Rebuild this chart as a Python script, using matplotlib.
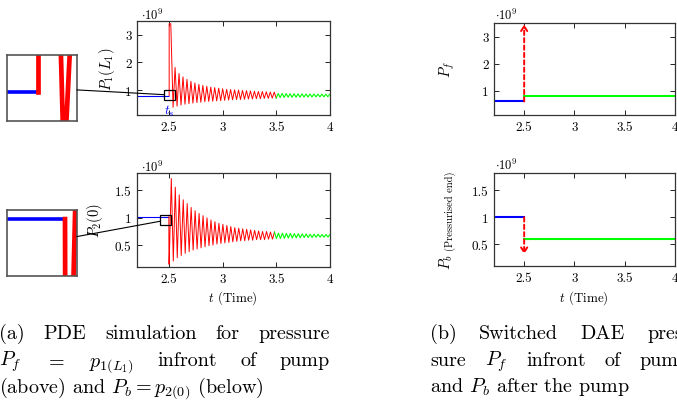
import numpy as np
import matplotlib
matplotlib.use('Agg')
import matplotlib.pyplot as plt
from matplotlib.patches import Rectangle
from matplotlib.lines import Line2D

plt.rcParams['font.family'] = 'cmr10'
plt.rcParams['mathtext.fontset'] = 'cm'
plt.rcParams['axes.formatter.use_mathtext'] = True

# ---------------- data (values in 1e9) ----------------
x_ticks = [2.5, 3, 3.5, 4]
x_tick_labels = ['2.5', '3', '3.5', '4']
top_yticks = [1, 2, 3]
top_ytick_labels = ['1', '2', '3']
bot_yticks = [0.5, 1, 1.5]
bot_ytick_labels = ['0.5', '1', '1.5']

t_start, t_switch, t_pde_end, t_end = 2.2, 2.5, 3.5, 4.0
period = 0.037

# (a) top: P_f = p_1(L_1)
pf_before = 0.80
pf_spike = 3.40
pf_spike_end = 2.515
pf_first_trough_t = 2.5365
pf_first_peak_t = 2.555
pf_troughs = [0.38, 0.42, 0.46, 0.49, 0.51, 0.53, 0.55, 0.56, 0.58, 0.59, 0.60, 0.61, 0.62,
              0.63, 0.64, 0.65, 0.66, 0.66, 0.67, 0.68, 0.68, 0.69, 0.69, 0.70, 0.70, 0.71, 0.71]
pf_peaks = [1.82, 1.60, 1.48, 1.39, 1.32, 1.26, 1.21, 1.17, 1.14, 1.11, 1.09, 1.07, 1.05,
            1.03, 1.02, 1.01, 1.00, 0.99, 0.98, 0.97, 0.96, 0.95, 0.95, 0.94, 0.93, 0.93]
pf_green_first_peak_t = 3.517
pf_green_first_trough_t = 3.5355
pf_green_peaks = [0.88, 0.88, 0.875, 0.87, 0.87, 0.865, 0.865, 0.86, 0.86, 0.86, 0.855, 0.855, 0.855, 0.85]
pf_green_troughs = [0.73, 0.735, 0.74, 0.74, 0.745, 0.745, 0.75, 0.75, 0.75, 0.755, 0.755, 0.755, 0.76]

# (a) bottom: P_b = p_2(0)
pb_before = 1.02
pb_drop_t = 2.497
pb_first_trough_end = 2.500
pb_first_peak_t = 2.520
pb_second_trough_t = 2.5385
pb_troughs = [0.15, 0.21, 0.27, 0.31, 0.35, 0.38, 0.41, 0.43, 0.45, 0.47, 0.49, 0.50, 0.52, 0.53,
              0.54, 0.55, 0.56, 0.57, 0.58, 0.58, 0.59, 0.59, 0.60, 0.60, 0.60, 0.61, 0.61]
pb_peaks = [1.72, 1.56, 1.42, 1.33, 1.26, 1.19, 1.13, 1.08, 1.04, 1.00, 0.96, 0.93, 0.90, 0.88,
            0.86, 0.84, 0.82, 0.81, 0.80, 0.79, 0.78, 0.77, 0.76, 0.75, 0.75, 0.74, 0.74]
pb_green_first_trough_t = 3.5005
pb_green_first_peak_t = 3.519
pb_green_troughs = [0.62, 0.62, 0.625, 0.63, 0.63, 0.635, 0.635, 0.64, 0.64, 0.64, 0.645, 0.645, 0.645, 0.65]
pb_green_peaks = [0.72, 0.72, 0.715, 0.715, 0.71, 0.71, 0.705, 0.705, 0.70, 0.70, 0.70, 0.695, 0.695, 0.695]

# (b) switched DAE
dae_pf_before, dae_pf_after, dae_pf_arrow_tip = 0.60, 0.80, 3.45
dae_pb_before, dae_pb_after, dae_pb_arrow_tip = 1.00, 0.60, 0.32

# ---------------- build series ----------------
def interleave(t_a, v_a, t_b, v_b):
    t = np.concatenate([t_a, t_b]); v = np.concatenate([v_a, v_b])
    o = np.argsort(t, kind='stable')
    return t[o], v[o]

# top PDE
pf_tr_t = pf_first_trough_t + period * np.arange(len(pf_troughs))
pf_pk_t = pf_first_peak_t + period * np.arange(len(pf_peaks))
tt, vv = interleave(pf_tr_t, np.array(pf_troughs), pf_pk_t, np.array(pf_peaks))
pf_red_t = np.concatenate([[t_switch, t_switch, pf_spike_end], tt])
pf_red_v = np.concatenate([[pf_before, pf_spike, pf_spike], vv])
gpk_t = pf_green_first_peak_t + period * np.arange(len(pf_green_peaks))
gtr_t = pf_green_first_trough_t + period * np.arange(len(pf_green_troughs))
gt, gv = interleave(gpk_t, np.array(pf_green_peaks), gtr_t, np.array(pf_green_troughs))
pf_green_t = np.concatenate([[pf_red_t[-1]], gt])
pf_green_v = np.concatenate([[pf_red_v[-1]], gv])
pf_blue_t = [t_start, t_switch]
pf_blue_v = [pf_before, pf_before]

# bottom PDE
pb_tr_t = np.concatenate([[pb_drop_t + 0.001], pb_second_trough_t + period * np.arange(len(pb_troughs) - 1)])
pb_pk_t = pb_first_peak_t + period * np.arange(len(pb_peaks))
tt, vv = interleave(pb_tr_t, np.array(pb_troughs), pb_pk_t, np.array(pb_peaks))
pb_red_t = np.concatenate([[pb_drop_t], tt[:1], [pb_first_trough_end], tt[1:]])
pb_red_v = np.concatenate([[pb_before], vv[:1], [pb_troughs[0]], vv[1:]])
gtr_t = pb_green_first_trough_t + period * np.arange(len(pb_green_troughs))
gpk_t = pb_green_first_peak_t + period * np.arange(len(pb_green_peaks))
gt, gv = interleave(gtr_t, np.array(pb_green_troughs), gpk_t, np.array(pb_green_peaks))
pb_green_t = np.concatenate([[pb_red_t[-1]], gt])
pb_green_v = np.concatenate([[pb_red_v[-1]], gv])
pb_blue_t = [t_start, pb_drop_t]
pb_blue_v = [pb_before, pb_before]

# ---------------- figure ----------------
W, H = 677, 410
fig = plt.figure(figsize=(W / 100, H / 100), dpi=100)
fig.patch.set_facecolor('white')

def rect(x0, y0, x1, y1):
    return [x0 / W, 1 - y1 / H, (x1 - x0) / W, (y1 - y0) / H]

FS = 9.4
SP = '#333333'

def style(ax, yt, ytl, ylim):
    ax.set_xlim(t_start, t_end)
    ax.set_ylim(*ylim)
    ax.set_xticks(x_ticks)
    ax.set_xticklabels(x_tick_labels)
    ax.set_yticks(yt)
    ax.set_yticklabels(ytl)
    ax.tick_params(direction='in', top=True, right=True, length=3.5, width=0.6,
                   labelsize=FS, pad=4, colors='black')
    for s in ax.spines.values():
        s.set_linewidth(0.9); s.set_color(SP)

ax1 = fig.add_axes(rect(137, 22, 330, 116))
ax2 = fig.add_axes(rect(137, 174, 330, 268))
ax3 = fig.add_axes(rect(494, 24, 675, 116))
ax4 = fig.add_axes(rect(494, 174, 675, 267))

TOP_LIM = (0.1, 3.5)
BOT_LIM = (0.1, 1.82)

for ax in (ax1, ax3):
    style(ax, top_yticks, top_ytick_labels, TOP_LIM)
for ax in (ax2, ax4):
    style(ax, bot_yticks, bot_ytick_labels, BOT_LIM)

def draw_pde(ax, bt, bv, rt, rv, gt_, gv_, lw_b, lw_r, lw_g):
    ax.plot(bt, bv, color='blue', lw=lw_b, solid_capstyle='butt')
    ax.plot(rt, rv, color='red', lw=lw_r)
    ax.plot(gt_, gv_, color='#00ff00', lw=lw_g)

draw_pde(ax1, pf_blue_t, pf_blue_v, pf_red_t, pf_red_v, pf_green_t, pf_green_v, 0.8, 0.7, 0.8)
draw_pde(ax2, pb_blue_t, pb_blue_v, pb_red_t, pb_red_v, pb_green_t, pb_green_v, 0.8, 0.7, 0.8)

ax1.text(t_switch, 0.26, r'$t_s$', color='blue', ha='center', va='center', fontsize=9.5)

# DAE plots
def draw_dae(ax, before, after, tip):
    ax.plot([t_start, t_switch], [before, before], color='blue', lw=1.5)
    ax.plot([t_switch, t_end], [after, after], color='#00ff00', lw=1.5)
    ax.annotate('', xy=(t_switch, tip), xytext=(t_switch, before),
                arrowprops=dict(arrowstyle='->,head_length=0.35,head_width=0.22', color='red',
                                lw=1.4, linestyle=(0, (2.2, 1.6)), shrinkA=0, shrinkB=0))

draw_dae(ax3, dae_pf_before, dae_pf_after, dae_pf_arrow_tip)
draw_dae(ax4, dae_pb_before, dae_pb_after, dae_pb_arrow_tip)

# zoom insets
def spy(ax, box_px, xl, yl, data, lws):
    axi = fig.add_axes(rect(*box_px))
    (bt, bv), (rt, rv), (gt_, gv_) = data
    axi.plot(bt, bv, color='blue', lw=lws[0], solid_capstyle='butt')
    axi.plot(rt, rv, color='red', lw=lws[1])
    axi.plot(gt_, gv_, color='#00ff00', lw=lws[1])
    axi.set_xlim(*xl); axi.set_ylim(*yl)
    axi.set_xticks([]); axi.set_yticks([])
    for s in axi.spines.values():
        s.set_linewidth(1.2); s.set_color('#555555')
    r = Rectangle((xl[0], yl[0]), xl[1] - xl[0], yl[1] - yl[0], fill=False,
                  ec='black', lw=0.9, zorder=5)
    ax.add_patch(r)
    fig.canvas.draw()
    inv = fig.transFigure.inverted()
    ib = axi.get_window_extent()
    c_in = np.array([(ib.x0 + ib.x1) / 2, (ib.y0 + ib.y1) / 2])
    p0 = ax.transData.transform((xl[0], yl[0])); p1 = ax.transData.transform((xl[1], yl[1]))
    c_r = (p0 + p1) / 2
    def at_x(x):
        f = (x - c_in[0]) / (c_r[0] - c_in[0])
        return np.array([x, c_in[1] + f * (c_r[1] - c_in[1])])
    a = inv.transform(at_x(ib.x1)); b = inv.transform(at_x(p0[0]))
    fig.add_artist(Line2D([a[0], b[0]], [a[1], b[1]], color='black', lw=0.8))
    return axi

spy(ax1, (7, 56, 77, 122), (2.455, 2.555), (0.643, 1.006),
    [(pf_blue_t, pf_blue_v), (pf_red_t, pf_red_v), (pf_green_t, pf_green_v)], (2.6, 3.4))
spy(ax2, (7, 211, 77, 277), (2.4146, 2.514), (0.864, 1.045),
    [(pb_blue_t, pb_blue_v), (pb_red_t, pb_red_v), (pb_green_t, pb_green_v)], (2.6, 3.4))

# labels
def ftxt(px, py, s, **kw):
    return fig.text(px / W, 1 - py / H, s, **kw)

ftxt(107, 69, r'$P_1(L_1)$', rotation=90, ha='center', va='center', fontsize=10.5)
ftxt(95, 221, r'$P_2(0)$', rotation=90, ha='center', va='center', fontsize=10.5)
ftxt(447, 70, r'$P_f$', rotation=90, ha='center', va='center', fontsize=10.5)
ftxt(446, 262, r'$P_b$', rotation=90, ha='center', va='center', fontsize=10.5)
ftxt(450, 211, '(Pressurised end)', rotation=90, ha='center', va='center', fontsize=7.6)
for (px, py) in [(141, 15), (141, 167), (495, 15), (495, 165)]:
    ftxt(px, py, r'$\cdot 10^{9}$', ha='left', va='center', fontsize=9)
ftxt(233, 298, r'$t$ (Time)', ha='center', va='center', fontsize=FS)
ftxt(584, 298, r'$t$ (Time)', ha='center', va='center', fontsize=FS)

# captions
CFS = 14.5
fig.canvas.draw()
renderer = fig.canvas.get_renderer()

def justified(pieces, x0, x1, py):
    texts = [ftxt(0, py, p, ha='left', va='baseline', fontsize=CFS) for p in pieces]
    widths = [t.get_window_extent(renderer).width for t in texts]
    gap = ((x1 - x0) - sum(widths)) / (len(pieces) - 1)
    x = x0
    for t, w in zip(texts, widths):
        t.set_x(x / W)
        x += w + gap

def natural(s, x0, py):
    ftxt(x0, py, s, ha='left', va='baseline', fontsize=CFS)

ya = [339, 366, 392]
justified(['(a)', 'PDE', 'simulation', 'for', 'pressure'], -1, 330, ya[0])
justified([r'$P_f$', '$=$', r'$p_{1(L_1)}$', 'infront', 'of', 'pump'], -1, 330, ya[1])
natural(r'(above) and $P_b = p_{2(0)}$ (below)', -1, ya[2])
justified(['(b)', 'Switched', 'DAE', 'pres-'], 430, 690, ya[0])
justified(['sure', r'$P_f$', 'infront', 'of', 'pump'], 430, 690, ya[1])
natural(r'and $P_b$ after the pump', 430, ya[2])

fig.savefig('out.png', dpi=100, facecolor='white')
